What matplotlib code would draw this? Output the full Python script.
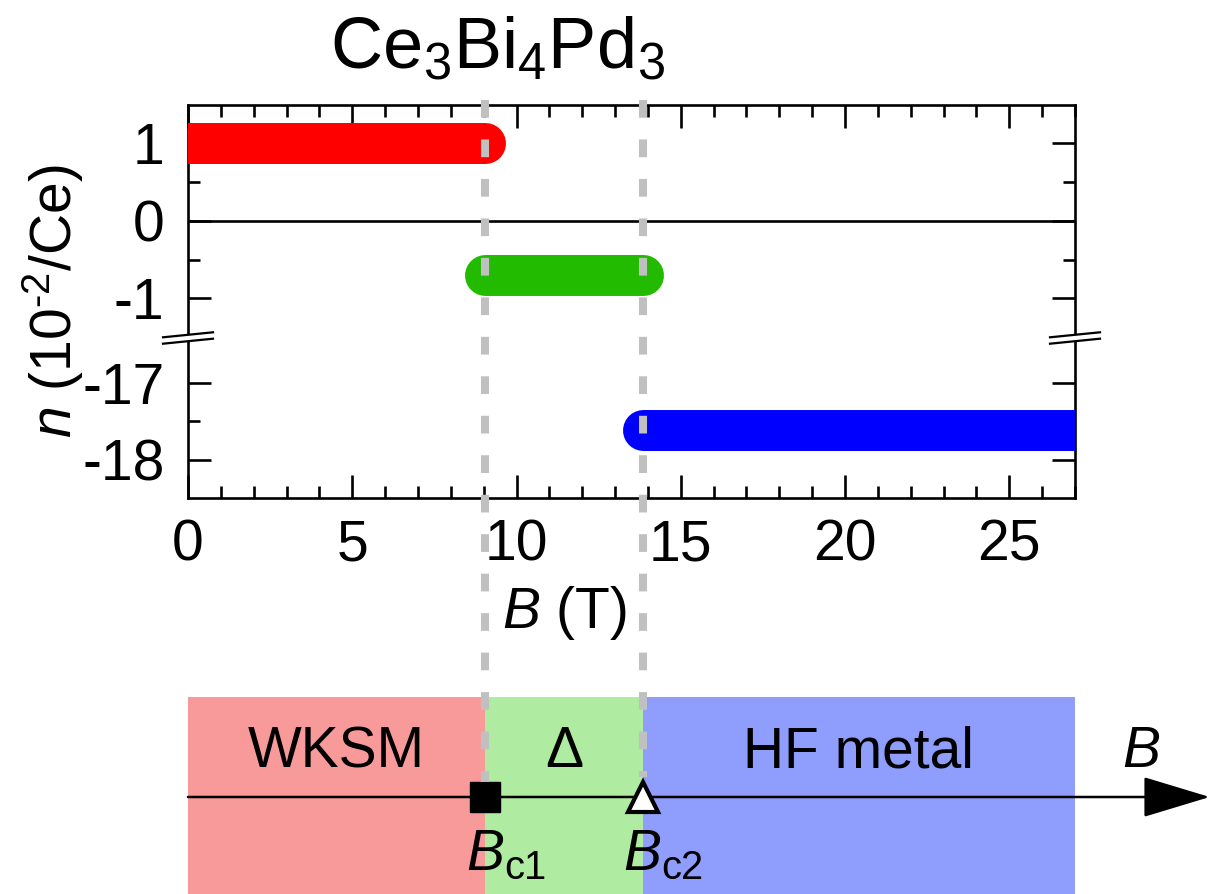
import matplotlib
matplotlib.use("Agg")
import matplotlib.pyplot as plt
from matplotlib.lines import Line2D
from matplotlib.patches import Polygon
from matplotlib.ticker import MultipleLocator, FixedLocator
from matplotlib.transforms import blended_transform_factory

plt.rcParams["font.family"] = "Liberation Sans"
plt.rcParams["mathtext.fontset"] = "custom"
plt.rcParams["mathtext.rm"] = "Liberation Sans"
plt.rcParams["mathtext.it"] = "Liberation Sans:italic"
plt.rcParams["axes.unicode_minus"] = False

# critical fields (T)
bc1 = 9.05
bc2 = 13.85

# carrier density segments (10^-2 / Ce)
seg_x = [[0.0, bc1], [bc1, bc2], [bc2, 27.0]]
seg_n = [1.0, -0.7, -17.62]
seg_colors = ["#ff0000", "#22bb00", "#0000ff"]

# phase regions along B
phase_names = ["WKSM", "\u0394", "HF metal"]
phase_edges = [0.0, bc1, bc2, 27.0]
phase_colors = ["#f99a9a", "#afeba0", "#8f9dfc"]

W, H = 1212, 894
fig = plt.figure(figsize=(W / 100, H / 100), dpi=100)

L = 188 / W
AW = (1075 - 188) / W
ax_up = fig.add_axes([L, (H - 338) / H, AW, 233 / H])
ax_lo = fig.add_axes([L, (H - 498) / H, AW, 160 / H], sharex=ax_up)

for ax in (ax_up, ax_lo):
    for x, n, c in zip(seg_x, seg_n, seg_colors):
        ax.plot(x, [n, n], color=c, lw=29.5, solid_capstyle="round", zorder=3)
    for s in ax.spines.values():
        s.set_linewidth(1.9)
    ax.tick_params(which="both", direction="in", width=1.9, labelsize=41,
                   left=True, right=True)
    ax.tick_params(which="major", length=16.5)
    ax.tick_params(which="minor", length=8.5)

ax_up.axhline(0, color="k", lw=1.9, zorder=2)
ax_up.set_xlim(0, 27)
ax_up.set_ylim(-1.512, 1.494)
ax_lo.set_ylim(-18.5, -16.42)
ax_up.spines["bottom"].set_visible(False)
ax_lo.spines["top"].set_visible(False)
ax_up.xaxis.set_major_locator(MultipleLocator(5))
ax_up.xaxis.set_minor_locator(MultipleLocator(1))
ax_up.yaxis.set_major_locator(FixedLocator([-1, 0, 1]))
ax_up.yaxis.set_minor_locator(FixedLocator([-0.5, 0.5]))
ax_lo.yaxis.set_major_locator(FixedLocator([-18, -17]))
ax_lo.yaxis.set_minor_locator(FixedLocator([-17.5]))
ax_up.tick_params(axis="x", which="both", top=True, bottom=False, labelbottom=False)
ax_lo.tick_params(axis="x", which="both", top=False, bottom=True, pad=15)
ax_up.tick_params(axis="y", pad=17)
ax_lo.tick_params(axis="y", pad=17)

# axis break marks
def break_mark(px, py):
    f = lambda a, b: ((px + a) / W, (H - (py + b)) / H)
    dx, s, g = 25, 2.5, 3.2
    poly = Polygon([f(-dx, g + s), f(dx, g - s), f(dx, -g - s), f(-dx, -g + s)],
                   closed=True, transform=fig.transFigure, fc="white", ec="none", zorder=5)
    fig.add_artist(poly)
    for sg in (1, -1):
        a = f(-dx, sg * g + s)
        b = f(dx, sg * g - s)
        fig.add_artist(Line2D([a[0], b[0]], [a[1], b[1]], transform=fig.transFigure,
                              color="k", lw=1.6, zorder=6))

break_mark(188, 338)
break_mark(1075, 338)

# labels
fig.text(497 / W, 1 - 68 / H, r"Ce$_3$Bi$_4$Pd$_3$", ha="center", va="baseline", fontsize=52)
fig.text(53 / W, 1 - 301 / H, r"$n$ (10$^{\text{-2}}$/Ce)", rotation=90, ha="center",
         va="center", fontsize=41)
xl_tr = blended_transform_factory(ax_lo.transData, fig.transFigure)
fig.text((bc1 + bc2) / 2, 1 - 628 / H, r"$B$ (T)", ha="center", va="baseline",
         fontsize=41, transform=xl_tr)

# phase diagram strip
ax_b = fig.add_axes([L, 0, AW, (H - 697) / H])
ax_b.set_xlim(0, 27)
ax_b.set_ylim(0, 1)
ax_b.axis("off")
yl = (H - 797) / (H - 697)
for i, (name, c) in enumerate(zip(phase_names, phase_colors)):
    x0, x1 = phase_edges[i], phase_edges[i + 1]
    ax_b.axvspan(x0, x1, color=c, lw=0, zorder=0)
    ax_b.text((x0 + x1) / 2, 0.72, name, ha="center", va="center", fontsize=41, zorder=4)
ax_b.annotate("", xy=(31.1, yl), xytext=(0, yl), annotation_clip=False,
              arrowprops=dict(arrowstyle="-|>,head_length=2.15,head_width=0.65",
                              mutation_scale=20, lw=1.8, color="k",
                              shrinkA=0, shrinkB=0), zorder=3)
ax_b.text(29.0, 0.72, r"$B$", ha="center", va="center", fontsize=41)
ax_b.plot([bc1], [yl], marker="s", ms=21.5, color="k", clip_on=False, zorder=6)
ax_b.plot([bc2], [yl], marker="^", ms=22, mfc="white", mec="k", mew=3,
          clip_on=False, zorder=6)
ax_b.text(bc1 - 0.6, 0.12, r"$B_{\rm c1}$", ha="left", va="baseline", fontsize=41, zorder=6)
ax_b.text(bc2 - 0.6, 0.12, r"$B_{\rm c2}$", ha="left", va="baseline", fontsize=41, zorder=6)

# dashed guide lines through both panels
tr = blended_transform_factory(ax_up.transData, fig.transFigure)
for bc, yend in ((bc1, 782), (bc2, 777)):
    fig.add_artist(Line2D([bc, bc], [1 - 100 / H, 1 - yend / H], transform=tr,
                          color="#c0c0c0", lw=5.8, ls=(0, (2.2, 2.7)),
                          dash_capstyle="butt", zorder=4))

fig.savefig("out.png", dpi=100)
